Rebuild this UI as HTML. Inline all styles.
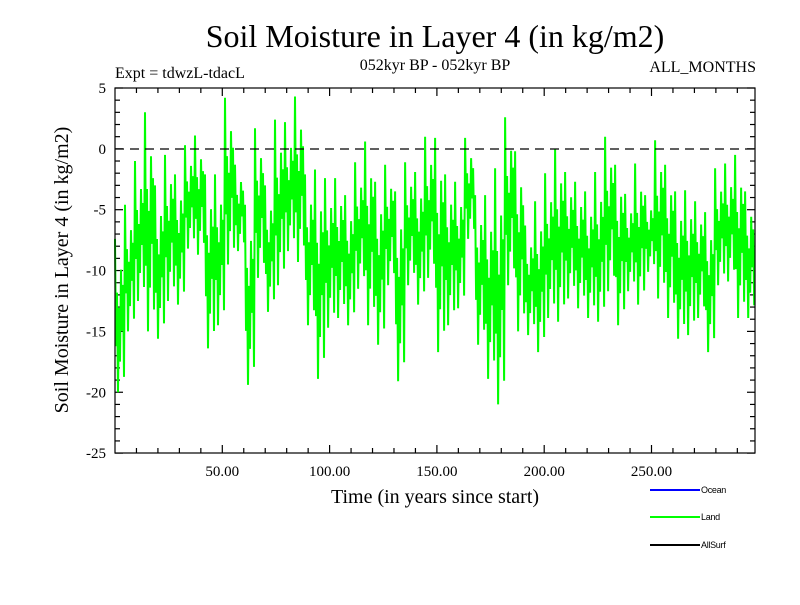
<!DOCTYPE html>
<html><head><meta charset="utf-8"><style>
body{margin:0;background:#fff;}
svg text{font-family:"Liberation Serif",serif;}
svg text.sans{font-family:"Liberation Sans",sans-serif;}
</style></head><body>
<svg id="chart" width="800" height="600" xmlns="http://www.w3.org/2000/svg">
<rect width="800" height="600" fill="#fff"/>
<text x="435" y="47" font-size="32" text-anchor="middle">Soil Moisture in Layer 4 (in kg/m2)</text>
<text x="115" y="78" font-size="16">Expt = tdwzL-tdacL</text>
<text x="435" y="70" font-size="16" text-anchor="middle">052kyr BP - 052kyr BP</text>
<text x="756" y="72" font-size="16" text-anchor="end">ALL_MONTHS</text>
<text x="435" y="503" font-size="20" text-anchor="middle">Time (in years since start)</text>
<text transform="translate(68,270) rotate(-90)" font-size="20" text-anchor="middle">Soil Moisture in Layer 4 (in kg/m2)</text>
<g id="ticks"></g>
<g id="series"></g>
<line x1="115" y1="149" x2="755" y2="149" stroke="#000" stroke-width="1.2" stroke-dasharray="9,6"/>
<rect x="115" y="88" width="640" height="365" fill="none" stroke="#000" stroke-width="1.2"/>
<g>
<line x1="650" y1="490" x2="700" y2="490" stroke="#0000ff" stroke-width="2"/>
<text class="sans" x="701" y="493" font-size="9" letter-spacing="-0.3">Ocean</text>
<line x1="650" y1="517" x2="700" y2="517" stroke="#00ff00" stroke-width="2"/>
<text class="sans" x="701" y="520" font-size="9" letter-spacing="-0.3">Land</text>
<line x1="650" y1="545" x2="700" y2="545" stroke="#000" stroke-width="2"/>
<text class="sans" x="701" y="548" font-size="9" letter-spacing="-0.3">AllSurf</text>
</g>
</svg>
<script>
const chunkHigh=[-7.4,-4.6,-1,3,-3,-0.5,-2.1,0.3,1.1,-2.1,-2.1,4.2,-1.3,-4.6,1.7,-3,
2.4,2.2,4.3,-2.1,-1.7,-2.4,-2.4,-3.8,-1.1,0.6,-2.7,-1.3,-3.5,-1.1,-1.9,1,
0.9,-2.1,-2.7,0.9,-3.8,-3.8,-1.6,2.6,-0.2,-6.3,-4.3,-2,0,-1.9,-2.7,-3.5,
-1.9,1,-1.3,-3.7,-1.2,-3.8,0.7,-1.3,-3.5,-3.4,-4.3,-5.2,-1.6,-1.2,-0.5,-3.5];
const chunkLow=[-20,-15,-12.5,-15,-15.6,-12.5,-12.8,-8.2,-8.7,-16.4,-14.5,-9.5,-8.4,-19.4,-10.6,-13.4,
-11.2,-8.4,-9.3,-14.5,-18.9,-14.7,-13.9,-14.5,-11.5,-14.5,-16.1,-11.2,-19.1,-11.2,-12.8,-10.6,
-16.7,-14.5,-13.1,-7.4,-16.1,-18.9,-21,-11.2,-15,-15.3,-16.7,-13.9,-14.2,-12.3,-13.1,-13.9,
-14.2,-11.7,-14.5,-11.7,-12.8,-10.1,-12.3,-13.9,-15.6,-15.3,-13.9,-16.7,-11.2,-10.9,-13.9,-13.9];
const yTicks=[5,0,-5,-10,-15,-20,-25];
const xTickLabels=["50.00","100.00","150.00","200.00","250.00"];
const xTickValues=[50,100,150,200,250];
const NS="http://www.w3.org/2000/svg";
const X0=115,XPY=2.146,Y0=88,YPU=12.17;
function xs(t){return X0+t*XPY;}
function ys(v){return Y0+(5-v)*YPU;}
const tk=document.getElementById('ticks');
function ln(x1,y1,x2,y2,name){const l=document.createElementNS(NS,'line');
l.setAttribute('x1',x1);l.setAttribute('y1',y1);l.setAttribute('x2',x2);l.setAttribute('y2',y2);
l.setAttribute('stroke','#000');l.setAttribute('stroke-width','1.2');


tk.appendChild(l);}
for(let v=-25;v<=5;v++){const y=ys(v);const big=v%5===0;const L=big?8:5;
ln(X0,y,X0+L,y,'y-tick');ln(755,y,755-L,y,'y-tick-right');}
for(let t=10;t<298;t+=10){const x=xs(t);const big=t%50===0;const L=big?8:5;
ln(x,88,x,88+L,'x-tick-top');ln(x,453,x,453-L,'x-tick');}
yTicks.forEach(v=>{const t=document.createElementNS(NS,'text');t.setAttribute('x',106);t.setAttribute('y',ys(v)+5);
t.setAttribute('text-anchor','end');t.setAttribute('font-size','15');t.textContent=v;


tk.appendChild(t);});
xTickValues.forEach((v,i)=>{const t=document.createElementNS(NS,'text');t.setAttribute('x',xs(v));t.setAttribute('y',476);
t.setAttribute('text-anchor','middle');t.setAttribute('font-size','15');t.textContent=xTickLabels[i];


tk.appendChild(t);});
const pattern=[0.0,0.7,0.35,1.0,0.45,0.8,0.2,0.6,0.3,0.9];
const span=298.3/chunkHigh.length;
let pts=[];
chunkHigh.forEach((h,i)=>{const lo=chunkLow[i];
pattern.forEach((f,j)=>{const t=(i+j/pattern.length)*span;pts.push(xs(t).toFixed(1)+','+ys(h-f*(h-lo)).toFixed(1));});});
const pl=document.createElementNS(NS,'polyline');
pl.setAttribute('points',pts.join(' '));pl.setAttribute('fill','none');pl.setAttribute('stroke','#00ff00');pl.setAttribute('stroke-width','2');


document.getElementById('series').appendChild(pl);
</script>
</body></html>
